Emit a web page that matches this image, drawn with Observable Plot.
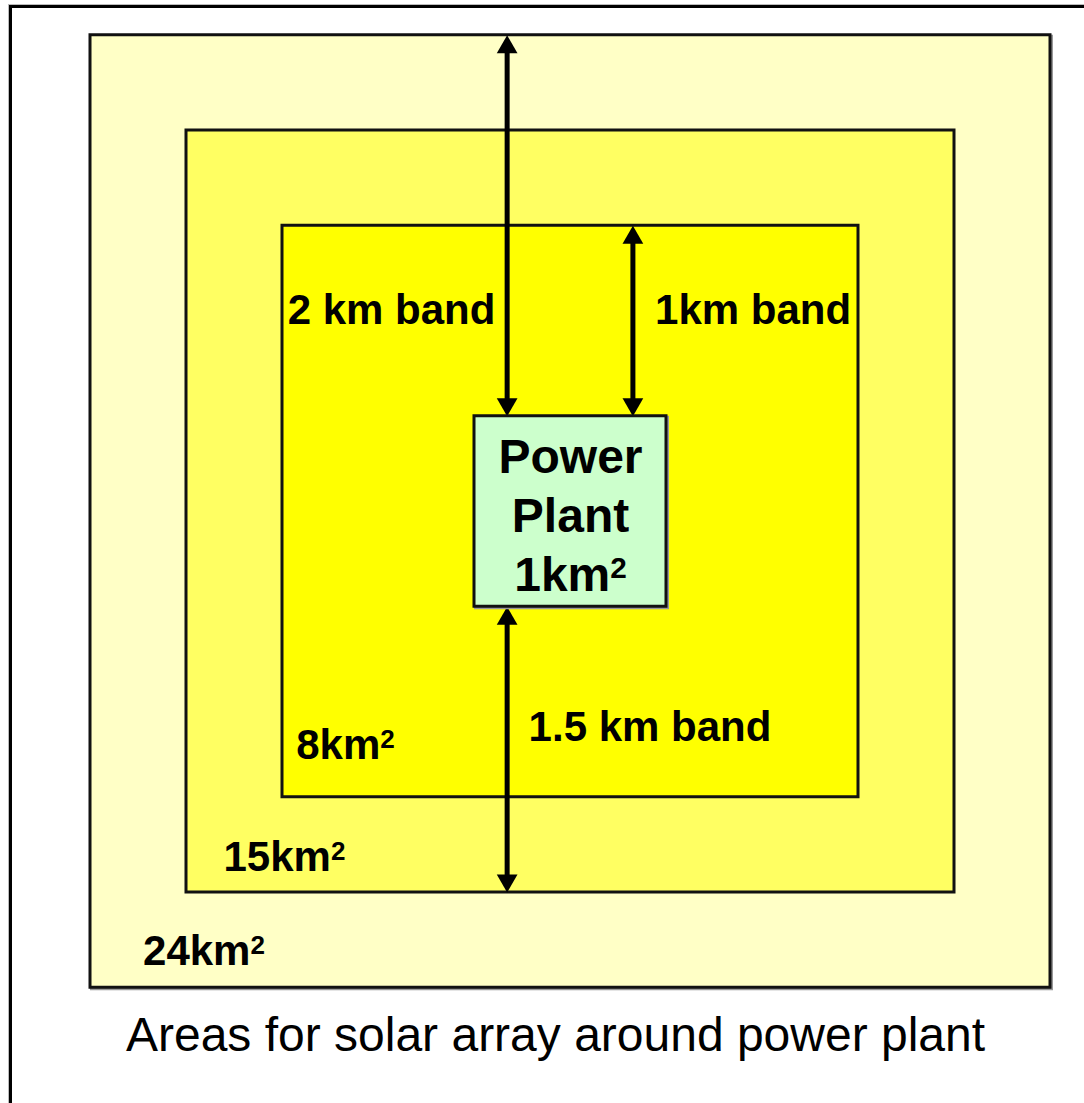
<!DOCTYPE html>
<html>
<head>
<meta charset="utf-8">
<script src="https://cdn.jsdelivr.net/npm/d3@7"></script>
<script src="https://cdn.jsdelivr.net/npm/@observablehq/plot@0.6"></script>
<style>
  html, body { margin: 0; padding: 0; background: #fff; overflow: hidden; }
  #page { position: relative; width: 1084px; height: 1103px; }
  #chart { position: absolute; left: 0; top: 0; }
  #frame { position: absolute; left: 9px; top: 5px; width: 1300px; height: 1300px;
           border: 3px solid #000; box-shadow: -1px -1px 0 #bbb; pointer-events: none; }
</style>
</head>
<body>
<div id="page"><div id="chart"></div><div id="frame"></div></div>
<script>
// ---- data (km) ----
const zoneKey  = ["outer", "middle", "inner", "plant"];
const zoneSide = [5, 4, 3, 1];            // side length of each square, km

const arrowX      = [-0.33, 0.325, -0.33];
const arrowTop    = [2.5, 1.5, -0.5];
const arrowBottom = [0.5, 0.5, -2.0];

const labelText = ["2 km band", "1km band", "1.5 km band", "8km²", "15km²", "24km²"];
const labelX    = [-0.932, 0.951, 0.414, -1.172, -1.490, -1.909];
const labelY    = [1.055, 1.055, -1.134, -1.228, -1.816, -2.310];

const plantText = "Power\nPlant\n1km²";
const captionText = "Areas for solar array around power plant";
const captionX = -0.078, captionY = -2.751;

// ---- build ----
const W = 1084, H = 1103;
const zoneFill = {outer: "#ffffc6", middle: "#ffff62", inner: "#ffff00", plant: "#ccffcc"};
const zones = zoneKey.map((k, i) => ({key: k, half: zoneSide[i] / 2}));
const bigZones = zones.filter(d => d.key !== "plant");
const plant = zones.filter(d => d.key === "plant");
const arrows = arrowX.map((x, i) => ({x, top: arrowTop[i], bottom: arrowBottom[i]}));
const labels = labelText.map((t, i) => ({t, x: labelX[i], y: labelY[i]}));
const font = "'Liberation Sans', Arial, Helvetica, sans-serif";

const rectOpts = {
  x1: d => -d.half, x2: d => d.half, y1: d => -d.half, y2: d => d.half
};

const chart = Plot.plot({
  width: W, height: H,
  marginTop: 0, marginRight: 0, marginBottom: 0, marginLeft: 0,
  x: {domain: [-570 / 192, 514 / 192], axis: null},
  y: {domain: [(511 - H) / 190.5, 511 / 190.5], axis: null},
  color: {type: "identity"},
  style: {background: "transparent", fontFamily: font},
  marks: [
    // shadows
    Plot.rect(bigZones, {...rectOpts, fill: "none", stroke: "#999", strokeWidth: 3, dx: 1.5, dy: 1.5}),
    Plot.rect(bigZones, {...rectOpts, fill: d => zoneFill[d.key], stroke: "#111", strokeWidth: 3}),
    // arrows
    Plot.ruleX(arrows, {x: "x", y1: "top", y2: "bottom", stroke: "#000", strokeWidth: 5, insetTop: 12, insetBottom: 12}),
    Plot.dot(arrows, {x: "x", y: "top", symbol: "triangle", r: 7.7, fill: "#000", stroke: "none", dy: 12}),
    Plot.dot(arrows, {x: "x", y: "bottom", symbol: "triangle", r: 7.7, fill: "#000", stroke: "none", rotate: 180, dy: -12}),
    // plant
    Plot.rect(plant, {...rectOpts, fill: "none", stroke: "#999", strokeWidth: 3, dx: 1.5, dy: 1.5}),
    Plot.rect(plant, {...rectOpts, fill: d => zoneFill[d.key], stroke: "#111", strokeWidth: 3}),
    Plot.text([plantText], {x: 0, y: -0.008, text: d => d, fontSize: 48, fontWeight: "bold",
      lineHeight: 1.23, fill: "#000", fontFamily: font}),
    // labels
    Plot.text(labels, {x: "x", y: "y", text: "t", fontSize: 42, fontWeight: "bold", fill: "#000", fontFamily: font}),
    // caption
    Plot.text([captionText], {x: captionX, y: captionY, text: d => d, fontSize: 48, fill: "#000", fontFamily: font})
  ]
});

const svgNS = "http://www.w3.org/2000/svg";

// superscript the ² glyphs
const walker = document.createTreeWalker(chart, NodeFilter.SHOW_TEXT);
const hits = [];
while (walker.nextNode()) if (walker.currentNode.data.includes("²")) hits.push(walker.currentNode);
for (const node of hits) {
  const parts = node.data.split("²");
  node.data = parts[0];
  const sup = document.createElementNS(svgNS, "tspan");
  sup.setAttribute("font-size", "0.62em");
  sup.setAttribute("dy", "-0.42em");
  sup.textContent = "2";
  node.parentNode.insertBefore(sup, node.nextSibling);
}

document.getElementById("chart").appendChild(chart);
</script>
</body>
</html>
